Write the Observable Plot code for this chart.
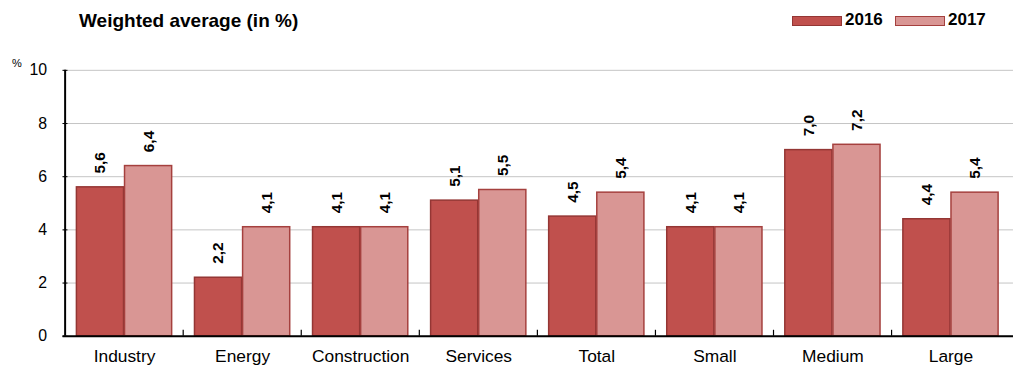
<!DOCTYPE html>
<html>
<head>
<meta charset="utf-8">
<script src="https://cdn.jsdelivr.net/npm/d3@7"></script>
<script src="https://cdn.jsdelivr.net/npm/@observablehq/plot@0.6"></script>
<style>
  html, body { margin: 0; padding: 0; background: #fff; overflow: hidden; width: 1013px; height: 368px; }
  body { font-family: "Liberation Sans", Arial, sans-serif; color: #000; }
  #header { position: relative; height: 50px; }
  #title { position: absolute; left: 79px; top: 11px; font-size: 19px; line-height: 19px; font-weight: bold; }
  .sw { position: absolute; top: 16px; width: 48px; height: 8px; border: 1.5px solid; }
  .lt { position: absolute; top: 11px; font-size: 17px; line-height: 17px; font-weight: bold; }
  #pct { position: absolute; left: 12px; top: 58px; font-size: 11px; line-height: 11px; }
  #chart svg { display: block; overflow: visible; }
</style>
</head>
<body>
<div id="header">
  <div id="title">Weighted average (in %)</div>
  <div class="sw" id="sw1"></div><div class="lt" id="lt1"></div>
  <div class="sw" id="sw2"></div><div class="lt" id="lt2"></div>
</div>
<div id="pct">%</div>
<div id="chart"></div>
<script>
const categories = ["Industry", "Energy", "Construction", "Services", "Total", "Small", "Medium", "Large"];
const values2016 = [5.6, 2.2, 4.1, 5.1, 4.5, 4.1, 7.0, 4.4];
const values2017 = [6.4, 4.1, 4.1, 5.5, 5.4, 4.1, 7.2, 5.4];
const seriesNames = ["2016", "2017"];
const yTicks = [0, 2, 4, 6, 8, 10];

const fill2016 = "#c0504d", stroke2016 = "#943634";
const fill2017 = "#d99694", stroke2017 = "#a5403e";

// legend
const sw1 = document.getElementById("sw1"), sw2 = document.getElementById("sw2");
sw1.style.left = "792px"; sw1.style.background = fill2016; sw1.style.borderColor = stroke2016;
sw2.style.left = "895px"; sw2.style.background = fill2017; sw2.style.borderColor = stroke2017;
const lt1 = document.getElementById("lt1"), lt2 = document.getElementById("lt2");
lt1.textContent = seriesNames[0]; lt1.style.left = "845px";
lt2.textContent = seriesNames[1]; lt2.style.left = "948px";

const table = categories.map((c, i) => ({cat: c, v16: values2016[i], v17: values2017[i]}));
const fmt = v => v.toFixed(1).replace(".", ",");

const W = 1021, H = 318, mL = 63, mR = 0, mT = 20, mB = 30;
const step = (W - mL - mR) / categories.length;
const padIn = 0.19;
const bandW = step * (1 - padIn);
const half = bandW / 2;
const frameH = H - mT - mB;

const plot = Plot.plot({
  width: W, height: H,
  marginLeft: mL, marginRight: mR, marginTop: mT, marginBottom: mB,
  style: {fontFamily: "'Liberation Sans', Arial, sans-serif", color: "#000", background: "transparent"},
  x: {domain: categories, paddingInner: padIn, paddingOuter: padIn / 2, axis: null, label: null},
  y: {domain: [0, 10], axis: null, label: null},
  marks: [
    Plot.ruleY(yTicks, {stroke: "#c4c4c4", strokeWidth: 1}),
    Plot.ruleY(yTicks, {stroke: "#000", strokeWidth: 1, insetRight: W - mL - mR - 5}),
    Plot.barY(table, {x: "cat", y: "v16", fill: fill2016, stroke: stroke2016, strokeWidth: 1.5, insetRight: half}),
    Plot.barY(table, {x: "cat", y: "v17", fill: fill2017, stroke: stroke2017, strokeWidth: 1.5, insetLeft: half}),
    Plot.text(table, {x: "cat", y: "v16", text: d => fmt(d.v16), dx: -half / 2, dy: -14, rotate: -90,
      textAnchor: "start", lineAnchor: "middle", fontWeight: "bold", fontSize: 15.5, fill: "#000"}),
    Plot.text(table, {x: "cat", y: "v17", text: d => fmt(d.v17), dx: half / 2, dy: -14, rotate: -90,
      textAnchor: "start", lineAnchor: "middle", fontWeight: "bold", fontSize: 15.5, fill: "#000"}),
    Plot.ruleX(categories.slice(1), {x: d => d, dx: -step / 2, insetTop: frameH - 6, stroke: "#000", strokeWidth: 1.2}),
    Plot.ruleX(categories.slice(0, 1), {x: d => d, dx: -step / 2, stroke: "#000", strokeWidth: 2}),
    Plot.ruleY([0], {stroke: "#000", strokeWidth: 2}),
    Plot.axisY(yTicks, {tickSize: 0, tickPadding: 16, fontSize: 16, tickFormat: d => String(d), fill: "#000", label: null}),
    Plot.axisX({tickSize: 0, tickPadding: 14, fontSize: 17.5, fill: "#000", label: null})
  ]
});
document.getElementById("chart").appendChild(plot);
</script>
</body>
</html>
